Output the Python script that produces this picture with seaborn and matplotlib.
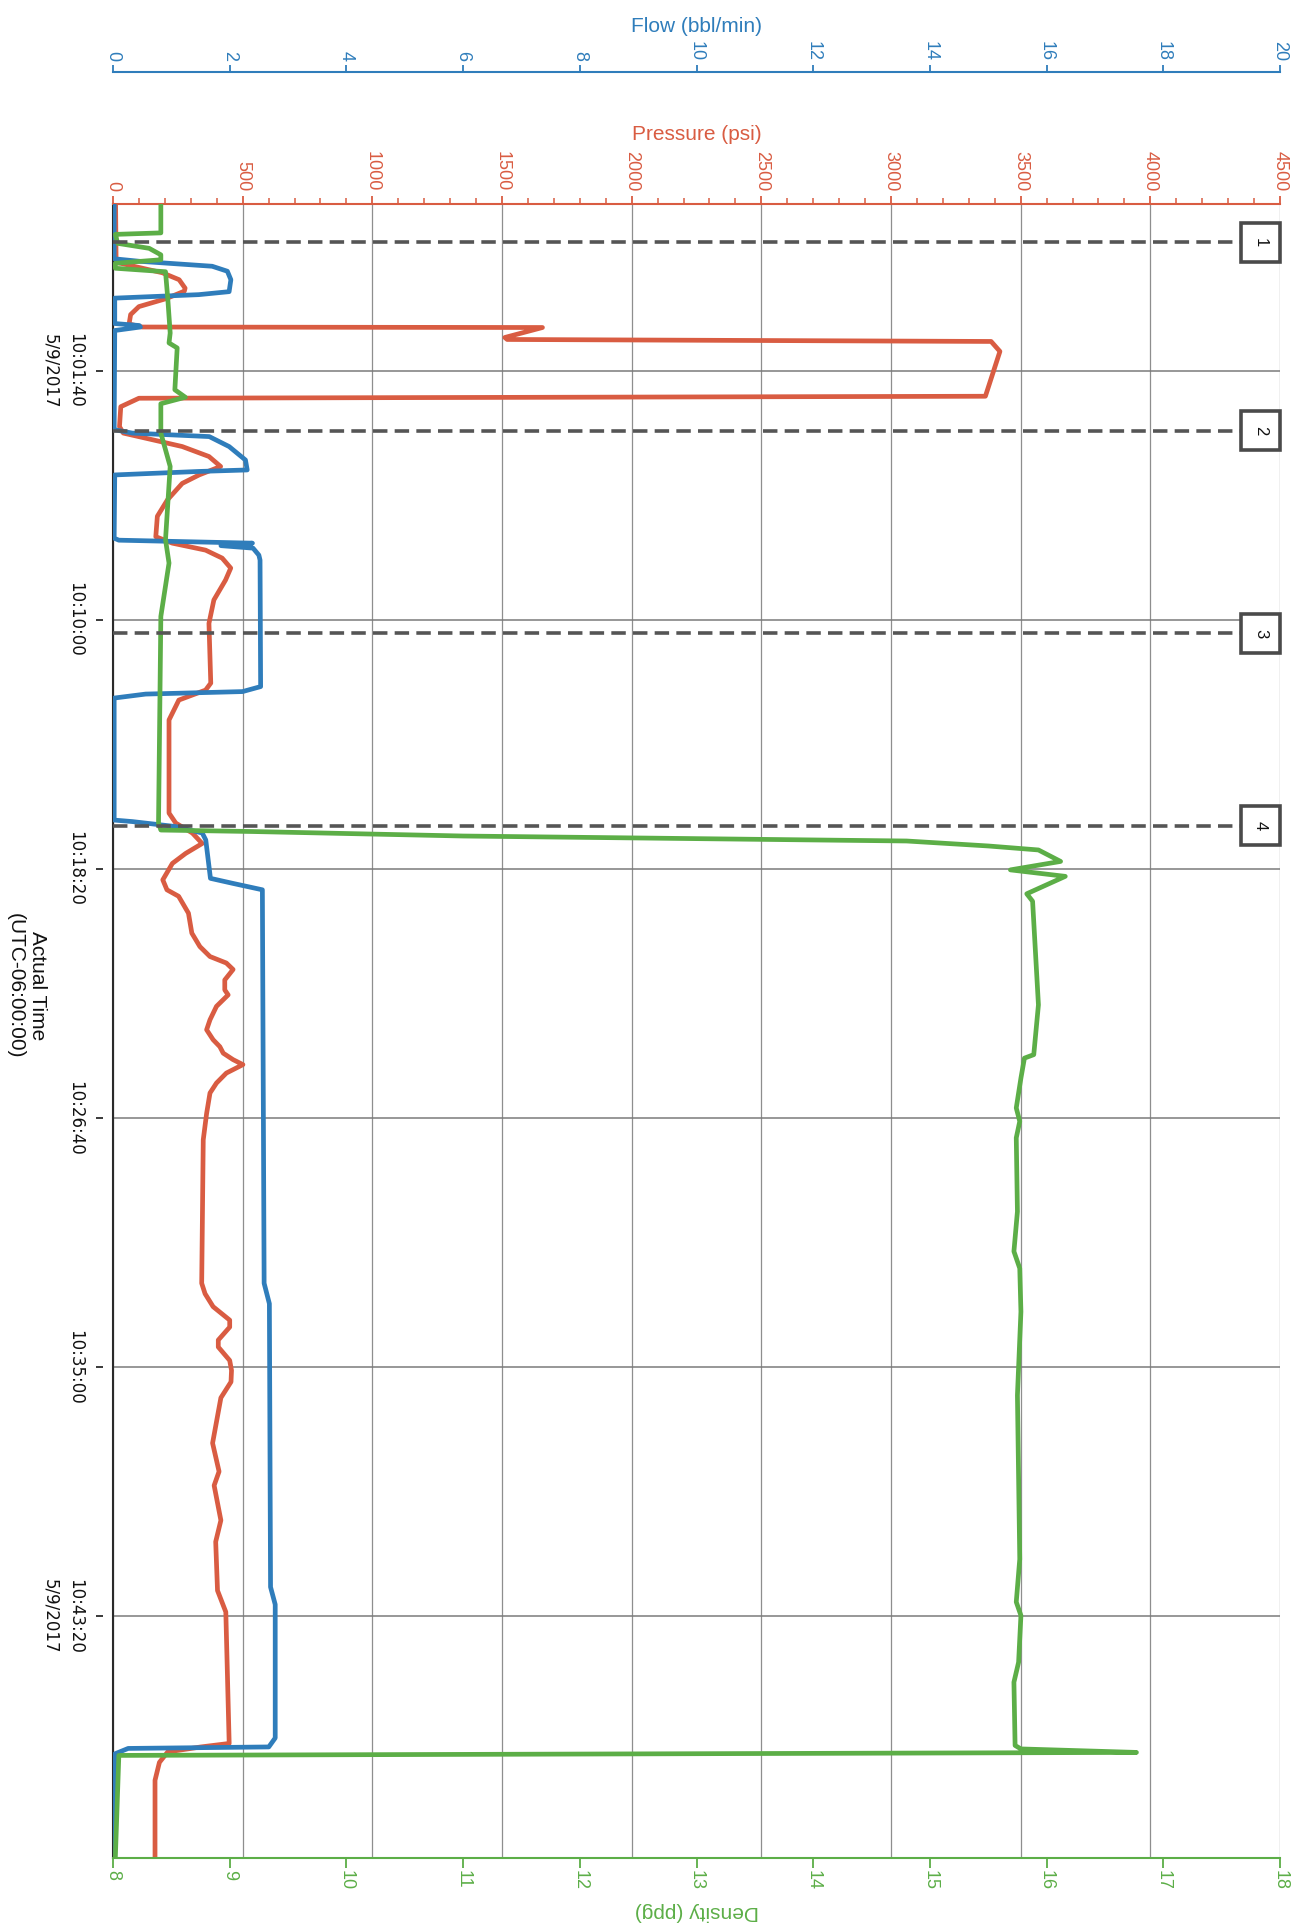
import matplotlib
matplotlib.use("Agg")
import matplotlib.pyplot as plt
from matplotlib.patches import Rectangle
from matplotlib.ticker import MultipleLocator
import seaborn as sns

sns.set_theme(style="white")
plt.rcParams['font.family'] = ['Liberation Sans', 'DejaVu Sans']

RED = '#d95c42'
BLUE = '#2f7dbb'
GREEN = '#5cae47'

# time is in seconds after 10:00:00 (5/9/2017, UTC-06:00)
time_min, time_max = -235, 3086
time_ticks = [100, 600, 1100, 1600, 2100, 2600]
time_labels = ['10:01:40\n5/9/2017', '10:10:00', '10:18:20', '10:26:40',
               '10:35:00', '10:43:20\n5/9/2017']

# pressure (psi)
pres_t = [-235, -118, -97, -83, -66, -60, -45, -29, -13, 6, 12, 13, 33, 37, 41, 61,
          151, 155, 172, 212, 225, 252, 272, 292, 309, 326, 359, 392, 433, 446, 460,
          476, 496, 520, 560, 607, 727, 741, 761, 801, 988, 1008, 1028, 1049, 1069,
          1089, 1122, 1142, 1155, 1189, 1229, 1256, 1276, 1289, 1302, 1323, 1343,
          1353, 1376, 1403, 1423, 1443, 1457, 1470, 1483, 1493, 1510, 1530, 1550,
          1591, 1644, 1932, 1953, 1979, 2006, 2020, 2046, 2060, 2087, 2107, 2130,
          2162, 2253, 2310, 2338, 2408, 2451, 2549, 2592, 2856, 2863, 2873, 2894,
          2930, 3086]
pres_psi = [10, 12, 190, 255, 278, 275, 205, 100, 68, 62, 113, 1656, 1511, 1520,
            3386, 3420, 3364, 100, 30, 25, 40, 267, 370, 415, 332, 267, 210, 171,
            165, 229, 357, 421, 454, 434, 389, 370, 377, 357, 254, 216, 216, 242,
            306, 344, 280, 229, 192, 208, 253, 291, 304, 335, 374, 437, 463, 431,
            431, 444, 399, 374, 361, 386, 412, 425, 463, 501, 437, 399, 374, 361,
            348, 342, 355, 386, 450, 450, 406, 406, 450, 457, 455, 416, 384, 409,
            390, 416, 396, 403, 435, 448, 339, 211, 179, 162, 162]

# flow (bbl/min)
flow_t = [-235, -125, -120, -110, -100, -83, -59, -53, -46, 5, 9, 12, 19, 218,
          225, 232, 252, 279, 299, 302, 309, 436, 440, 446, 451, 456, 470, 480,
          734, 744, 749, 757, 1002, 1005, 1015, 1028, 1042, 1119, 1129, 1142,
          1932, 1973, 2542, 2577, 2845, 2863, 2866, 2877, 3086]
flow_bpm = [0.02, 0.02, 0.45, 1.70, 1.96, 2.02, 1.99, 1.47, 0.03, 0.03, 0.45,
            0.47, 0.03, 0.02, 0.33, 1.65, 1.99, 2.27, 2.30, 1.47, 0.03, 0.02,
            0.10, 2.39, 1.85, 2.40, 2.50, 2.52, 2.53, 2.22, 0.56, 0.02, 0.02,
            0.33, 1.07, 1.53, 1.59, 1.67, 2.05, 2.56, 2.59, 2.68, 2.70, 2.78,
            2.78, 2.67, 0.26, 0.03, 0.01]

# density (ppg)
dens_t = [-235, -177, -174, -156, -146, -133, -123, -116, -106, -99, -43, 24, 44,
          54, 138, 153, 166, 225, 292, 439, 486, 593, 1008, 1022, 1025, 1034,
          1044, 1054, 1062, 1085, 1102, 1115, 1150, 1165, 1373, 1473, 1480, 1520,
          1580, 1607, 1640, 1788, 1868, 1902, 1989, 2157, 2486, 2572, 2599, 2693,
          2733, 2860, 2867, 2874, 2880, 3086]
dens_ppg = [8.41, 8.41, 8.02, 8.04, 8.31, 8.41, 8.41, 8.02, 8.02, 8.45, 8.47, 8.49,
            8.48, 8.55, 8.53, 8.62, 8.41, 8.41, 8.49, 8.45, 8.48, 8.41, 8.39, 8.41,
            9.2, 11.0, 14.8, 15.5, 15.93, 16.12, 15.69, 16.16, 15.83, 15.88, 15.93,
            15.89, 15.81, 15.78, 15.74, 15.77, 15.74, 15.75, 15.72, 15.77, 15.78,
            15.75, 15.77, 15.74, 15.78, 15.76, 15.72, 15.73, 15.78, 16.77, 8.05, 8.02]

# numbered stage markers
event_t = [-158, 220, 627, 1013]
event_labels = ['1', '2', '3', '4']

W, H = 1306, 1929
fig = plt.figure(figsize=(W / 100, H / 100), dpi=100)
ax = fig.add_axes([113 / W, 1 - 1858 / H, (1280 - 113) / W, (1858 - 204) / H])
ax_flow = ax.twiny()
ax_dens = ax.twiny()

sns.lineplot(x=pres_psi, y=pres_t, sort=False, estimator=None, orient='y',
             color=RED, lw=3.4, ax=ax)
sns.lineplot(x=flow_bpm, y=flow_t, sort=False, estimator=None, orient='y',
             color=BLUE, lw=3.4, ax=ax_flow)
sns.lineplot(x=dens_ppg, y=dens_t, sort=False, estimator=None, orient='y',
             color=GREEN, lw=3.4, ax=ax_dens)

ax.set_xlim(0, 4500)
ax_flow.set_xlim(0, 20)
ax_dens.set_xlim(8, 18)
ax.set_ylim(time_max, time_min)

for a in (ax, ax_flow, ax_dens):
    for s in a.spines.values():
        s.set_visible(False)

# pressure axis on top
ax.xaxis.tick_top()
ax.xaxis.set_label_position('top')
ax.set_xticks(range(0, 4501, 500))
ax.xaxis.set_minor_locator(MultipleLocator(100))
ax.spines['top'].set_visible(True)
ax.spines['top'].set_color(RED)
ax.spines['top'].set_linewidth(1.5)
ax.tick_params(axis='x', which='major', top=True, bottom=False, direction='out',
               length=6, width=1.3, color=RED, labelcolor=RED, labelsize=13,
               pad=3, labelrotation=-90)
ax.tick_params(axis='x', which='minor', top=True, bottom=False, direction='out',
               length=4, width=1.1, color=RED)
ax.set_xlabel('Pressure (psi)', color=RED, fontsize=15, labelpad=8)

# time axis on the left
ax.spines['left'].set_visible(True)
ax.spines['left'].set_color('#2a2a2a')
ax.spines['left'].set_linewidth(1.5)
ax.set_yticks(time_ticks)
ax.set_yticklabels(time_labels)
ax.tick_params(axis='y', left=True, length=0, pad=21, labelsize=12,
               labelcolor='#111111')
for lbl in ax.get_yticklabels():
    lbl.set_rotation(-90)
    lbl.set_va('center')
    lbl.set_multialignment('center')
    lbl.set_linespacing(1.45)
    lbl.set_fontfamily('DejaVu Sans')
ax.set_ylabel('')

# detached tick marks for time axis
ax_flow.yaxis.set_visible(True)
ax_flow.spines['left'].set_position(('outward', 7.5))
ax_flow.tick_params(axis='y', left=True, right=False, labelleft=False,
                    labelright=False, direction='out', length=5, width=1.3,
                    color='#2a2a2a')
ax_flow.set_ylabel('')

ax.grid(True, axis='x', which='major', color='#8e8e8e', lw=0.9)
ax.grid(True, axis='y', which='major', color='#7a7a7a', lw=1.1)
ax.set_axisbelow(True)

# flow axis, further up
ax_flow.spines['top'].set_visible(True)
ax_flow.spines['top'].set_position(('outward', 95))
ax_flow.spines['top'].set_color(BLUE)
ax_flow.spines['top'].set_linewidth(1.5)
ax_flow.set_xticks(range(0, 21, 2))
ax_flow.tick_params(axis='x', top=True, bottom=False, direction='out', length=5,
                    width=1.3, color=BLUE, labelcolor=BLUE, labelsize=13, pad=3,
                    labelrotation=-90)
ax_flow.set_xlabel('Flow (bbl/min)', color=BLUE, fontsize=15, labelpad=6)

# density axis at the bottom
ax_dens.xaxis.tick_bottom()
ax_dens.xaxis.set_label_position('bottom')
ax_dens.spines['bottom'].set_visible(True)
ax_dens.spines['bottom'].set_color(GREEN)
ax_dens.spines['bottom'].set_linewidth(1.5)
ax_dens.set_xticks(range(8, 19))
ax_dens.tick_params(axis='x', bottom=True, top=False, labelbottom=True,
                    labeltop=False, direction='out', length=7, width=1.3,
                    color=GREEN, labelcolor=GREEN, labelsize=13, pad=2,
                    labelrotation=-90)
ax_dens.set_xlabel('Density (ppg)', color=GREEN, fontsize=15, labelpad=8,
                   rotation=180)
ax_dens.set_ylabel('')

# stage markers
tr = ax_dens.get_yaxis_transform()
box_w = 39 / (1280 - 113)
half_h = 39
for t, lab in zip(event_t, event_labels):
    ax_dens.axhline(t, xmin=0, xmax=1 - box_w, color='#555555', lw=2.6,
                    dashes=(4.0, 2.0), zorder=4)
    ax_dens.add_patch(Rectangle((1 - box_w, t - half_h), box_w, 2 * half_h,
                                transform=tr, facecolor='white',
                                edgecolor='#4a4a4a', lw=2.6, clip_on=False,
                                zorder=5))
    ax_dens.text(1 - box_w / 2, t, lab, transform=tr, rotation=-90,
                 ha='center', va='center', fontsize=12, color='#111111',
                 zorder=6)

fig.text(26 / W, 1 - 986 / H, 'Actual Time\n(UTC-06:00:00)', rotation=-90,
         ha='center', va='center', fontsize=15, linespacing=1.2,
         multialignment='center', color='#111111')

fig.savefig('out.png', dpi=100)
